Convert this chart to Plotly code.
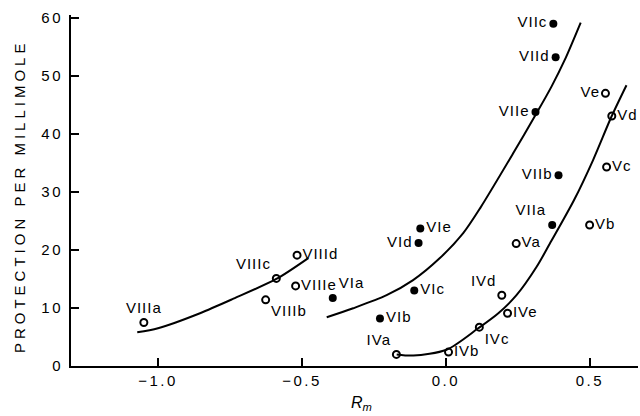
import plotly.graph_objects as go

# ---- data ----
open_labels = ["VIIIa", "VIIIb", "VIIIc", "VIIId", "VIIIe",
               "IVa", "IVb", "IVc", "IVd", "IVe",
               "Va", "Vb", "Vc", "Vd", "Ve"]
open_x = [-1.049, -0.626, -0.589, -0.517, -0.522,
          -0.172, 0.009, 0.116, 0.194, 0.214,
          0.244, 0.499, 0.558, 0.576, 0.554]
open_y = [7.5, 11.4, 15.1, 19.1, 13.8,
          2.0, 2.4, 6.7, 12.2, 9.1,
          21.1, 24.3, 34.3, 43.1, 47.0]

filled_labels = ["VIIa", "VIIb", "VIIc", "VIId", "VIIe",
                 "VIa", "VIb", "VIc", "VId", "VIe"]
filled_x = [0.369, 0.391, 0.373, 0.381, 0.311,
            -0.393, -0.229, -0.110, -0.095, -0.089]
filled_y = [24.3, 32.9, 59.0, 53.2, 43.8,
            11.7, 8.2, 13.0, 21.2, 23.7]

# fitted curves
curve1_x = [-1.072, -1.0, -0.854, -0.738, -0.589, -0.478]
curve1_y = [5.8, 6.5, 9.1, 11.6, 15.0, 18.6]
curve2_x = [-0.414, -0.322, -0.206, -0.114, -0.021, 0.060, 0.120, 0.234, 0.315, 0.367, 0.413, 0.468]
curve2_y = [8.4, 9.95, 12.2, 14.8, 18.6, 22.9, 27.3, 36.7, 43.6, 48.2, 52.8, 59.2]
curve3_x = [-0.171, -0.113, 0.002, 0.112, 0.182, 0.245, 0.315, 0.361, 0.445, 0.511, 0.575, 0.627]
curve3_y = [2.0, 1.8, 2.8, 6.5, 9.1, 12.2, 17.1, 21.1, 28.6, 35.5, 43.0, 48.4]

x_ticks = [-1.0, -0.5, 0.0, 0.5]
x_tick_text = ["\u22121.0", "\u22120.5", "0.0", "0.5"]
y_ticks = [0, 10, 20, 30, 40, 50, 60]

# label placement (style, not data)
open_pos = ["top center", "bottom right", "top left", "middle right", "middle right",
            "top left", "middle right", "bottom right", "top left", "middle right",
            "middle right", "middle right", "middle right", "middle right", "middle left"]
filled_pos = ["top left", "middle left", "middle left", "middle left", "middle left",
              "top right", "middle right", "middle right", "middle left", "middle right"]

FONT = "Liberation Sans, Arial, Helvetica, sans-serif"

fig = go.Figure()
for cx, cy in [(curve1_x, curve1_y), (curve2_x, curve2_y), (curve3_x, curve3_y)]:
    fig.add_trace(go.Scatter(x=cx, y=cy, mode="lines",
                             line=dict(color="black", width=2, shape="spline", smoothing=0.8),
                             hoverinfo="skip", showlegend=False))

fig.add_trace(go.Scatter(x=open_x, y=open_y, mode="markers+text", text=open_labels,
                         textposition=open_pos,
                         textfont=dict(family=FONT, size=15, color="black"),
                         marker=dict(symbol="circle-open", size=7, color="black",
                                     line=dict(color="black", width=2)),
                         showlegend=False))
fig.add_trace(go.Scatter(x=filled_x, y=filled_y, mode="markers+text", text=filled_labels,
                         textposition=filled_pos,
                         textfont=dict(family=FONT, size=15, color="black"),
                         marker=dict(symbol="circle", size=8, color="black"),
                         showlegend=False))

fig.update_layout(
    width=640, height=416,
    margin=dict(l=71, r=2, t=15, b=50),
    paper_bgcolor="white", plot_bgcolor="white",
    font=dict(family=FONT, color="black"),
    xaxis=dict(range=[-1.302, 0.667], tickvals=x_ticks, ticktext=x_tick_text,
               ticks="inside", ticklen=8, tickwidth=1.5, tickcolor="black",
               showline=True, linecolor="black", linewidth=2,
               showgrid=False, zeroline=False,
               tickfont=dict(family=FONT, size=15, color="black")),
    yaxis=dict(range=[0, 60.5], tickvals=y_ticks,
               ticks="inside", ticklen=8, tickwidth=1.5, tickcolor="black",
               showline=True, linecolor="black", linewidth=2,
               showgrid=False, zeroline=False, ticklabelstandoff=3,
               tickfont=dict(family=FONT, size=15, color="black")),
    annotations=[
        dict(text="PROTECTION PER MILLIMOLE", xref="paper", yref="paper",
             x=-0.0917, y=0.484, textangle=-90, showarrow=False,
             xanchor="center", yanchor="middle",
             font=dict(family=FONT, size=15, color="black")),
        dict(text="<i>R</i><sub><i>m</i></sub>", xref="paper", yref="paper",
             x=(349 - 71) / 567, y=-0.075, xanchor="left", yanchor="top",
             showarrow=False, font=dict(family=FONT, size=16, color="black")),
    ],
)

post = """
document.body.style.margin = '0';
document.body.style.padding = '0';
var gd = document.getElementById('{plot_id}');
gd.querySelectorAll('text.annotation-text').forEach(function(t){
  if (t.textContent.indexOf('PROTECTION') === 0) { t.style.letterSpacing = '4px'; }
});
gd.querySelectorAll('.xtick text, .ytick text').forEach(function(t){ t.style.letterSpacing = '2.5px'; });
gd.querySelectorAll('.textpoint text').forEach(function(t){ t.style.letterSpacing = '1px'; });
"""
fig.write_html("out.html", post_script=post, config={"displayModeBar": False})
